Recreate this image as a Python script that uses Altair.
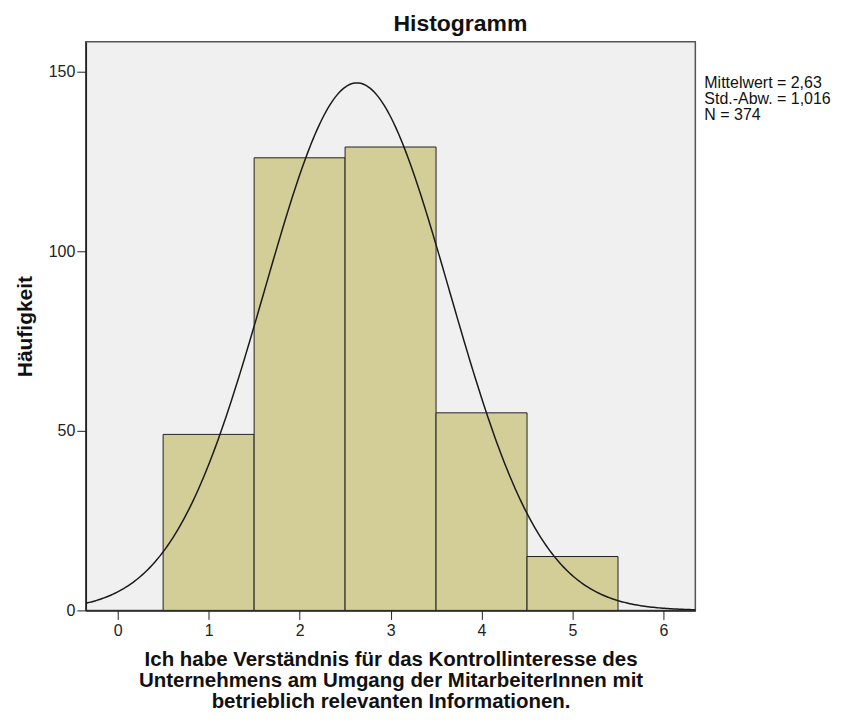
import altair as alt
import pandas as pd

# Data
bin_centers = [1, 2, 3, 4, 5]
counts = [49, 126, 129, 55, 15]
stats_lines = ["Mittelwert = 2,63", "Std.-Abw. = 1,016", "N = 374"]
mean_val = 2.63
sd_val = 1.016
n_val = 374
bin_width = 1.0

bars_df = pd.DataFrame({
    "lo": [c - bin_width / 2 for c in bin_centers],
    "hi": [c + bin_width / 2 for c in bin_centers],
    "count": counts,
})
stats_df = pd.DataFrame({"text": stats_lines, "row": [0, 1, 2]})

FONT = "Liberation Sans"
xdom = [-0.35, 6.35]
ydom = [0, 158.3]

xscale = alt.Scale(domain=xdom, nice=False, zero=False)
yscale = alt.Scale(domain=ydom, nice=False)

x_title = ["Ich habe Verständnis für das Kontrollinteresse des",
           "Unternehmens am Umgang der MitarbeiterInnen mit",
           "betrieblich relevanten Informationen."]

bars = alt.Chart(bars_df).mark_rect(
    fill="#d3ce98", stroke="#222222", strokeWidth=1
).encode(
    x=alt.X("lo:Q", scale=xscale, axis=alt.Axis(
        values=[0, 1, 2, 3, 4, 5, 6], title=x_title, titleFontSize=20.5,
        titleFontWeight="bold", titleFont=FONT, titleLineHeight=21,
        titlePadding=11, titleColor="#111111", labelFont=FONT, labelFontSize=16,
        labelColor="#222222",
        tickSize=9, tickColor="#222222", domainColor="#222222", domainWidth=1.5,
        labelPadding=3, grid=False, format="d")),
    x2="hi:Q",
    y=alt.Y("count:Q", scale=yscale, axis=alt.Axis(
        values=[0, 50, 100, 150], title="Häufigkeit", titleFontSize=21,
        titleFontWeight="bold", titleFont=FONT, titlePadding=13, titleColor="#111111",
        labelFont=FONT, labelFontSize=16, labelColor="#222222",
        tickSize=9, tickColor="#222222", domainColor="#222222", domainWidth=1.5,
        labelPadding=2, grid=False)),
    y2=alt.datum(0),
)

curve = alt.Chart(alt.sequence(-0.35, 6.36, 0.02, as_="xv")).transform_calculate(
    yv=f"{n_val * bin_width} / ({sd_val} * sqrt(2*PI)) * exp(-0.5*pow((datum.xv-{mean_val})/{sd_val},2))"
).mark_line(color="#1a1a1a", strokeWidth=1.5, clip=True).encode(
    x=alt.X("xv:Q", scale=xscale),
    y=alt.Y("yv:Q", scale=yscale, axis=None),
)

stats = alt.Chart(stats_df).mark_text(
    align="left", baseline="middle", font=FONT, fontSize=16, color="#111111"
).encode(
    x=alt.value(620),
    y=alt.Y("row:Q", scale=alt.Scale(domain=[0, 2], range=[41, 73]), axis=None),
    text="text:N",
)

chart = alt.layer(bars, curve, stats).resolve_scale(y="independent").properties(
    width=611, height=570,
    title=alt.TitleParams("Histogramm", font=FONT, fontSize=23, fontWeight="bold",
                          anchor="middle", offset=6, dx=70, color="#111111"),
    padding={"left": 78, "top": 33, "right": 140, "bottom": 110},
    autosize=alt.AutoSizeParams(type="none"),
).configure(background="white").configure_view(
    fill="#f0f0f0", stroke="#555555", strokeWidth=1.5)

chart.save("out.html", embed_options={"renderer": "svg", "actions": False})
